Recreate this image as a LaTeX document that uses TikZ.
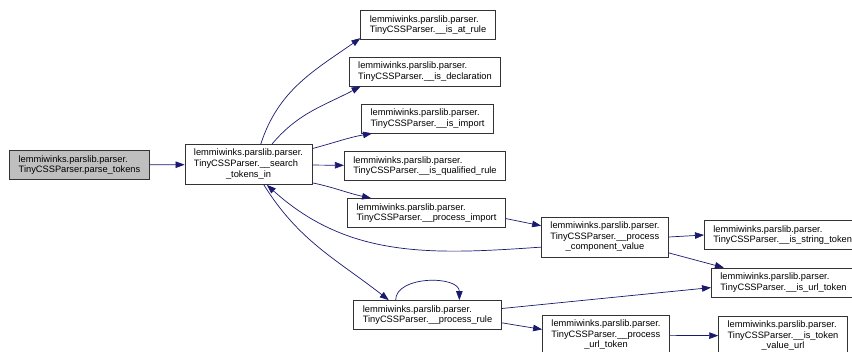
\documentclass[tikz,border=0pt]{standalone}
\usepackage{fontspec}
\setmainfont{Liberation Sans}
\usetikzlibrary{arrows.meta}
\definecolor{edgeblue}{HTML}{191970}
\definecolor{rootgrey}{HTML}{BFBFBF}
\newcommand{\lpkg}{lemmiwinks.parslib.parser.}
\newcommand{\tcp}{TinyCSSParser.}
\newcommand{\lastln}[1]{\multicolumn{1}{@{}c@{}}{#1}}

\begin{document}
\begin{tikzpicture}[
  x=1pt, y=1pt,
  fn/.style={draw=black!80, fill=white, line width=0.7pt, align=left, font=\fontsize{9.3}{10.7}\selectfont, minimum height=29pt, inner xsep=9pt, inner ysep=4pt},
  root/.style={fn, fill=rootgrey},
  call/.style={-{Triangle[length=9pt,width=6.5pt]}, draw=edgeblue, line width=0.7pt}
]
\useasboundingbox (0,0) rectangle (852,-351);
\clip (0,0) rectangle (852,-351);
% caller and first callee
\node[root] (ptok) at (79.5,-165) {\lpkg\\\tcp parse\_tokens};
\node[fn] (srch) at (248.5,-164.5) {\begin{tabular}{@{}l@{}}\lpkg\\\tcp\_\_search\\\lastln{\_tokens\_in}\end{tabular}};
% second column
\node[fn] (atrule) at (428,-25) {\lpkg\\\tcp\_\_is\_at\_rule};
\node[fn] (decl) at (425,-71.5) {\lpkg\\\tcp\_\_is\_declaration};
\node[fn] (imp) at (427.5,-118.5) {\lpkg\\\tcp\_\_is\_import};
\node[fn] (qual) at (425,-166) {\lpkg\\\tcp\_\_is\_qualified\_rule};
\node[fn] (pimp) at (426.5,-213) {\lpkg\\\tcp\_\_process\_import};
\node[fn] (prule) at (427.5,-315) {\lpkg\\\tcp\_\_process\_rule};
% third column
\node[fn] (pcv) at (605,-237) {\begin{tabular}{@{}l@{}}\lpkg\\\tcp\_\_process\\\lastln{\_component\_value}\end{tabular}};
\node[fn] (purl) at (606,-335) {\begin{tabular}{@{}l@{}}\lpkg\\\tcp\_\_process\\\lastln{\_url\_token}\end{tabular}};
% fourth column (cut at the right)
\node[fn, anchor=west] (isstr) at (704,-235) {\lpkg\\\tcp\_\_is\_string\_token};
\node[fn, anchor=west] (isurl) at (711,-282.5) {\lpkg\\\tcp\_\_is\_url\_token};
\node[fn] (tvurl) at (783,-336) {\begin{tabular}{@{}l@{}}\lpkg\\\tcp\_\_is\_token\\\lastln{\_value\_url}\end{tabular}};
% calls
\draw[call] (ptok) -- (srch);
\draw[call] (srch.59) to[out=72,in=215] (atrule.191);
\draw[call] (srch.41) to[out=50,in=208] (decl.193);
\draw[call] (srch.14) to[out=15,in=190] (imp.195);
\draw[call] (srch) -- (qual);
\draw[call] (srch.-16) to[out=-12,in=168] (pimp.165);
\draw[call] (pimp.-4) -- (pcv.170);
\draw[call] (pcv.189) to[out=184,in=-42] (srch.-48);
\draw[call] (srch.-53) to[out=-58,in=142] (prule.159);
\draw[call] (prule.155) to[out=90,in=90] (prule.25);
\draw[call] (pcv.east) -- (isstr.west);
\draw[call] (pcv.-14) -- (isurl.166);
\draw[call] (prule.5) -- (isurl.184);
\draw[call] (prule.-6) -- (purl.175);
\draw[call] (purl) -- (tvurl);
\end{tikzpicture}
\end{document}
